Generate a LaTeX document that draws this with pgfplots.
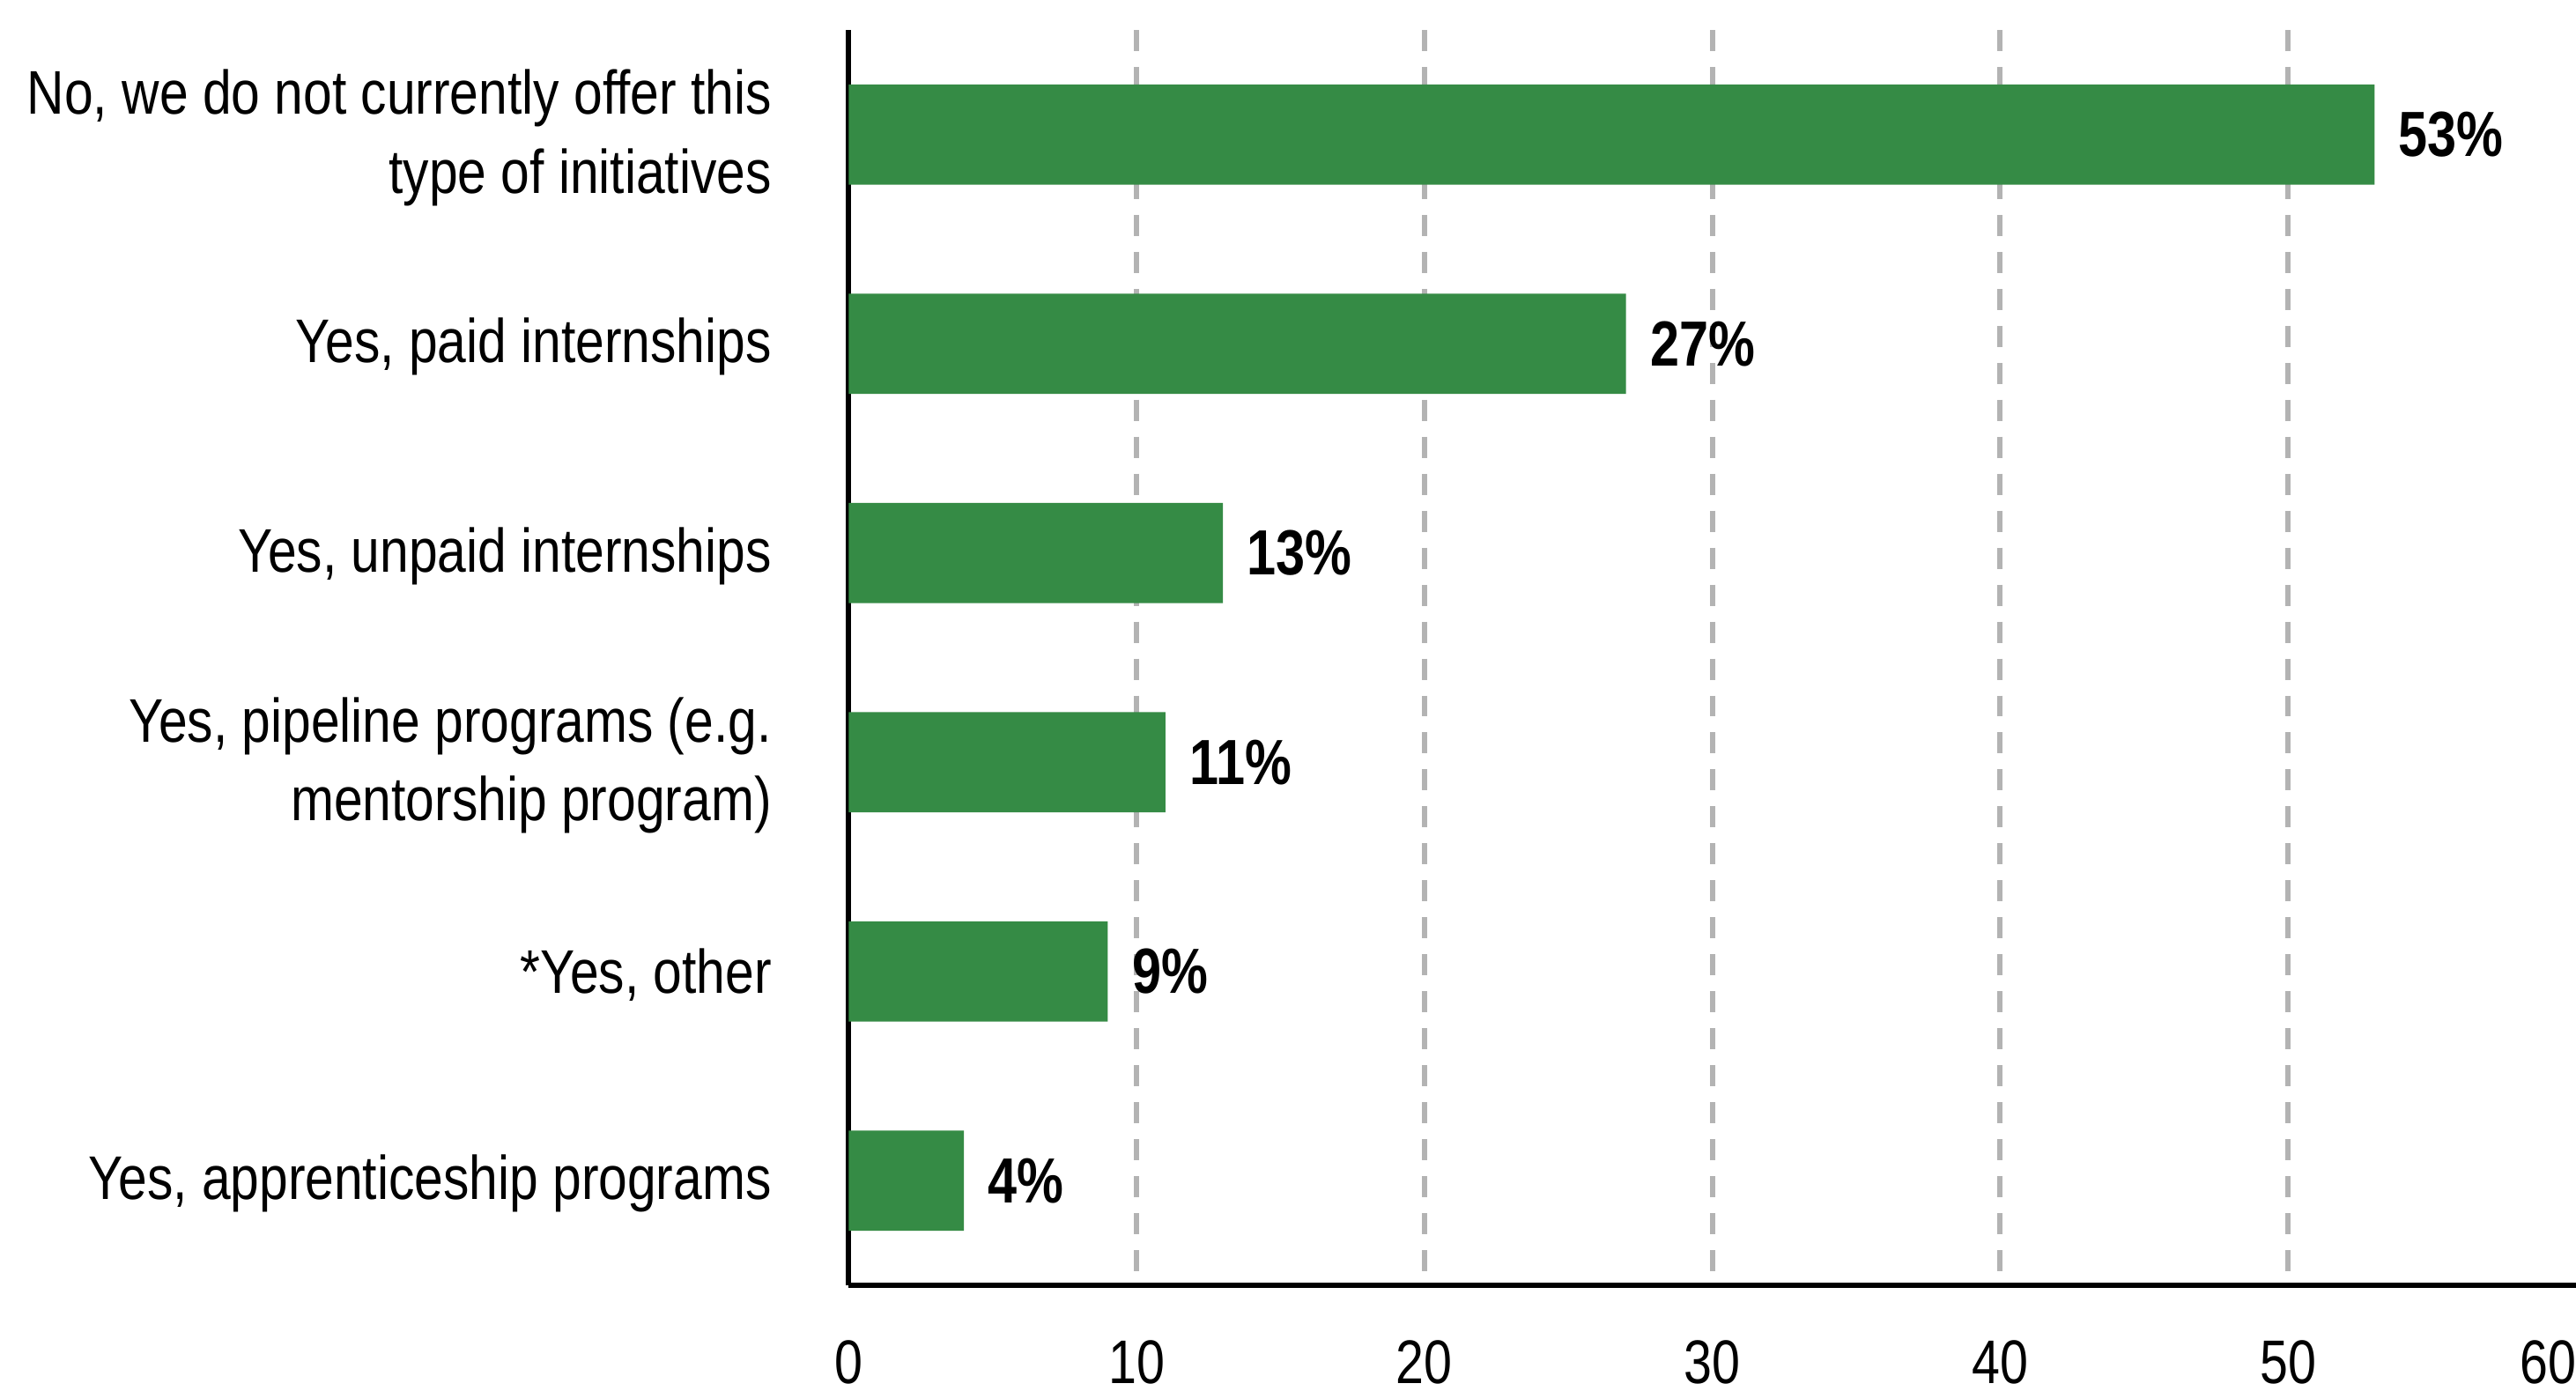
\documentclass[border=0pt]{standalone}
\usepackage{fontspec}
\setmainfont{Liberation Sans}[FakeStretch=0.82]
\newfontfamily\catfont{Liberation Sans}[FakeStretch=0.84]
\usepackage{pgfplots}
\pgfplotsset{compat=1.18}
\definecolor{bargreen}{HTML}{358B45}
\definecolor{gridgray}{HTML}{B3B3B3}
\begin{document}
\begin{tikzpicture}
\begin{axis}[
  name=ax,
  xbar,
  scale only axis,
  width=392.4pt, height=285.2pt,
  xmin=0, xmax=60,
  ymin=-0.5, ymax=5.5,
  y dir=reverse,
  bar width=22.8pt,
  axis lines=left,
  axis line style={-, line width=1.2pt, black},
  xtick={0,10,...,60},
  xticklabels={0,10,20,30,40,50,{\llap{60}}},
  ytick={0,1,2,3,4,5},
  yticklabels={{No, we do not currently offer this\\type of initiatives},{Yes, paid internships},{Yes, unpaid internships},{Yes, pipeline programs (e.g.\\mentorship program)},{*Yes, other},{Yes, apprenticeship programs}},
  major tick length=0pt,
  /pgf/number format/assume math mode=true,
  xticklabel style={font=\fontsize{14}{16}\selectfont, yshift=-9pt},
  yticklabel style={font=\catfont\fontsize{14}{17.9}\selectfont, align=right, xshift=-14pt, yshift=-0.7pt},
  extra x ticks={10,20,30,40,50},
  extra x tick style={grid=major, xticklabel={}},
  major grid style={gridgray, line width=1.2pt, dash pattern=on 4.8pt off 3.6pt},
  nodes near coords={\pgfmathprintnumber{\pgfplotspointmeta}\%},
  nodes near coords style={font=\bfseries\fontsize{14.5}{16}\selectfont, anchor=west, xshift=2pt},
  point meta=explicit,
]
\addplot[fill=bargreen, draw=none] coordinates {
  (53,0) [53]
  (27,1) [27]
  (13,2) [13]
  (11,3) [11]
  (9,4) [9]
  (4,5) [4]
};
\end{axis}
\pgfresetboundingbox
\path[use as bounding box] ([xshift=-192.8pt,yshift=-24pt]ax.south west) rectangle ([yshift=6.8pt]ax.north east);
\end{tikzpicture}
\end{document}
